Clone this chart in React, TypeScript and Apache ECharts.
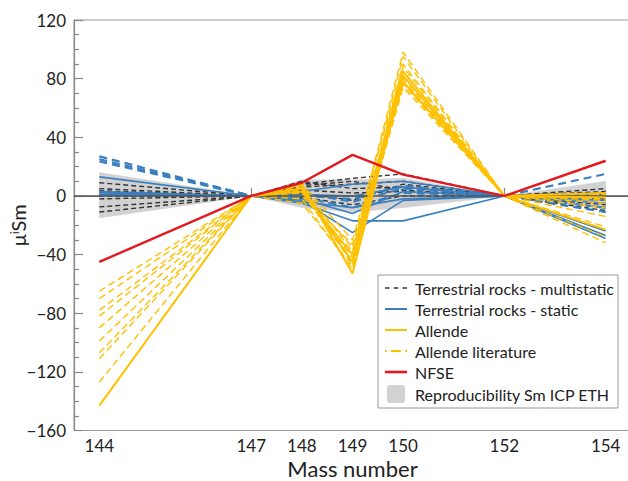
import React, { useEffect, useRef } from "react";
import * as echarts from "echarts";

const massNumbers = [144, 147, 148, 149, 150, 152, 154];

// Terrestrial rocks - multistatic (black dashed)
const multistatic: number[][] = [
  [9, 0, 8, 12, 15, 0, 5],
  [3.5, 0, 6, 8, 10, 0, 3],
  [-7.5, 0, 10, 5, 6, 0, -2],
  [-11, 0, 4, 2, 3, 0, -6],
  [5, 0, 2, -3, 8, 0, 1],
  [-2, 0, -1, -6, 0, 0, -8],
  [0, 0, 7, 10, 4, 0, -10],
];

// Terrestrial rocks - static (blue solid)
const staticRocks: number[][] = [
  [13, 0, -3, -25, -3, 0, -24],
  [2.5, 0, -5, -17, -17, 0, -27],
  [1, 0, 3, 8, 10, 0, -29],
  [2, 0, -2, -12, 3, 0, -3],
  [0.5, 0, 1, 0, 6, 0, 2],
  [3, 0, -4, -8, -2, 0, -5],
];

// Terrestrial rocks (blue dashed, not in legend)
const staticDashed: number[][] = [
  [27, 0, 2, -4, 5, 0, 15],
  [25, 0, -1, -8, 2, 0, -8],
  [23.5, 0, 0, -2, 7, 0, -11],
];

// Allende (yellow solid)
const allende: (number | null)[][] = [
  [-143, 0, 8, -53, 82, 0, -23],
  [null, 0, 5, -45, 78, 0, 2],
  [null, 0, 3, -40, 85, 0, -1],
];

// Allende literature (yellow dashed)
const allendeLit: number[][] = [
  [-65, 0, 4, -35, 98, 0, -32],
  [-70, 0, 7, -38, 95, 0, -2],
  [-78, 0, 2, -45, 90, 0, -21],
  [-82, 0, 8, -30, 88, 0, -5],
  [-90, 0, -2, -50, 85, 0, -28],
  [-99, 0, 3, -42, 80, 0, -14],
  [-107, 0, -5, -48, 77, 0, -3],
  [-111, 0, 0, -33, 76, 0, -8],
  [-127, 0, 6, -47, 74, 0, 1],
];

// NFSE (red)
const nfse = [-45, 0, 9, 28, 14.5, 0, 24];

// Reproducibility band
const bandUpper = [16, 0, 11, 11, 12, 0, 10];
const bandLower = [-15, 0, -8, -11, -8, 0, -9];

const yTickValues = [-160, -120, -80, -40, 0, 40, 80, 120];

const FONT = "Lato";
const BLUE = "#3a7fc0";
const YELLOW = "#ffc000";
const RED = "#e3191f";
const BLACK = "#333333";
const GRAY = "#d2d2d2";

const ICON_DASH = "path://M0,0h4.5v1.6h-4.5z M8.7,0h4.5v1.6h-4.5z M17.5,0h4.5v1.6h-4.5z";
const ICON_SOLID = "path://M0,0h22v2h-22z";
const ICON_SOLID_THICK = "path://M0,0h22v2.6h-22z";
const ICON_LIT = "path://M0,0h1.8v2h-1.8z M6,0h10v2h-10z M20.2,0h1.8v2h-1.8z";
const ICON_BOX = "path://M3,0 H15 A3,3 0 0 1 18,3 V15 A3,3 0 0 1 15,18 H3 A3,3 0 0 1 0,15 V3 A3,3 0 0 1 3,0 Z";

function toPoints(vals: (number | null)[]) {
  return massNumbers.map((m, i) => [m, vals[i] === null ? "-" : vals[i]]);
}

export default function App() {
  const ref = useRef<HTMLDivElement>(null);

  useEffect(() => {
    document.body.style.margin = "0";
    if (!ref.current) return;
    const chart = echarts.init(ref.current, undefined, { renderer: "svg" });

    const series: any[] = [];

    series.push({
      type: "custom",
      name: "Reproducibility Sm ICP ETH",
      itemStyle: { color: GRAY },
      z: 1,
      silent: true,
      encode: { x: 0, y: [1, 2] },
      data: massNumbers.map((m, i) => [m, bandUpper[i], bandLower[i]]),
      renderItem: (params: any, api: any) => {
        const i = params.dataIndex;
        if (i >= massNumbers.length - 1) return null;
        const pts = [
          api.coord([massNumbers[i], bandUpper[i]]),
          api.coord([massNumbers[i + 1], bandUpper[i + 1]]),
          api.coord([massNumbers[i + 1], bandLower[i + 1]]),
          api.coord([massNumbers[i], bandLower[i]]),
        ];
        return {
          type: "polygon",
          shape: { points: pts },
          style: { fill: GRAY, stroke: GRAY, lineWidth: 0.5 },
        };
      },
    });

    const lineBase = {
      type: "line",
      symbol: "none",
      showSymbol: false,
      connectNulls: false,
      silent: true,
    };

    multistatic.forEach((vals, k) => {
      series.push({
        ...lineBase,
        name: "Terrestrial rocks - multistatic",
        z: 2,
        color: BLACK,
        lineStyle: { color: BLACK, width: 1.4, type: [5, 3] },
        data: toPoints(vals),
        ...(k === 0
          ? {
              markLine: {
                silent: true,
                symbol: "none",
                label: { show: false },
                lineStyle: { color: "#555", width: 1.5, type: "solid" },
                data: [{ yAxis: 0 }],
              },
            }
          : {}),
      });
    });

    staticDashed.forEach((vals) => {
      series.push({
        ...lineBase,
        name: "Terrestrial rocks - static dashed",
        z: 3,
        color: BLUE,
        lineStyle: { color: BLUE, width: 2.2, type: [8, 5] },
        data: toPoints(vals),
      });
    });

    staticRocks.forEach((vals) => {
      series.push({
        ...lineBase,
        name: "Terrestrial rocks - static",
        z: 3,
        color: BLUE,
        lineStyle: { color: BLUE, width: 1.6 },
        data: toPoints(vals),
      });
    });

    allendeLit.forEach((vals) => {
      series.push({
        ...lineBase,
        name: "Allende literature",
        z: 4,
        color: YELLOW,
        lineStyle: { color: YELLOW, width: 1.4, type: [7, 4] },
        data: toPoints(vals),
      });
    });

    allende.forEach((vals) => {
      series.push({
        ...lineBase,
        name: "Allende",
        z: 5,
        color: YELLOW,
        lineStyle: { color: YELLOW, width: 2 },
        data: toPoints(vals),
      });
    });

    series.push({
      ...lineBase,
      name: "NFSE",
      z: 6,
      color: RED,
      lineStyle: { color: RED, width: 2.4 },
      data: toPoints(nfse),
    });

    const minus = (v: number) => (v < 0 ? "\u2212" + Math.abs(v) : String(v));

    chart.setOption({
      animation: false,
      backgroundColor: "#ffffff",
      textStyle: { fontFamily: FONT },
      grid: {
        left: 74,
        top: 20,
        right: -3,
        bottom: 50.5,
        show: true,
        borderColor: "#999",
        borderWidth: 1,
        containLabel: false,
        outerBoundsMode: "none",
      },
      legend: {
        orient: "vertical",
        left: 378,
        top: 275,
        itemWidth: 22,
        itemHeight: 18,
        itemGap: 5,
        padding: [5, 4, 5, 7],
        borderColor: "#999",
        borderWidth: 1,
        backgroundColor: "#ffffff",
        symbolKeepAspect: true,
        textStyle: { fontFamily: FONT, fontSize: 16, color: "#222", padding: [0, 0, 0, 3] },
        data: [
          { name: "Terrestrial rocks - multistatic", icon: ICON_DASH, itemStyle: { color: BLACK } },
          { name: "Terrestrial rocks - static", icon: ICON_SOLID, itemStyle: { color: BLUE } },
          { name: "Allende", icon: ICON_SOLID, itemStyle: { color: YELLOW } },
          { name: "Allende literature", icon: ICON_LIT, itemStyle: { color: YELLOW } },
          { name: "NFSE", icon: ICON_SOLID_THICK, itemStyle: { color: RED } },
          { name: "Reproducibility Sm ICP ETH", icon: ICON_BOX, itemStyle: { color: GRAY } },
        ],
      },
      xAxis: {
        type: "value",
        min: 143.5,
        max: 154.5,
        name: "Mass number",
        nameLocation: "middle",
        nameGap: 27,
        nameMoveOverlap: false,
        nameTextStyle: { fontFamily: FONT, fontSize: 22, color: "#222" },
        axisLine: { show: true, lineStyle: { color: "#888", width: 1.2 } },
        axisTick: {
          show: true,
          inside: true,
          length: 8,
          customValues: massNumbers,
          lineStyle: { color: "#888", width: 1.2 },
        },
        axisLabel: {
          customValues: massNumbers,
          fontFamily: FONT,
          fontSize: 17,
          color: "#222",
          margin: 6,
        },
        splitLine: { show: false },
      },
      yAxis: {
        type: "value",
        min: -160,
        max: 120,
        interval: 40,
        name: "{a|\u03bc}{b|i}{a|Sm}",
        nameLocation: "middle",
        nameGap: 46,
        nameMoveOverlap: false,
        nameTextStyle: {
          fontFamily: FONT,
          fontSize: 20,
          color: "#222",
          rich: {
            a: { fontFamily: FONT, fontSize: 20, color: "#222" },
            b: { fontFamily: FONT, fontSize: 12, color: "#222", padding: [0, 0, 8, 0] },
          },
        },
        axisLine: { show: true, lineStyle: { color: "#888", width: 1.2 } },
        axisTick: { show: true, inside: true, length: 9, lineStyle: { color: "#888", width: 1.2 } },
        minorTick: { show: true, splitNumber: 4, length: 5, lineStyle: { color: "#888", width: 1.2 } },
        axisLabel: {
          fontFamily: FONT,
          fontSize: 17,
          color: "#222",
          margin: 8,
          formatter: (v: number) => (yTickValues.includes(v) ? minus(v) : ""),
        },
        splitLine: { show: false },
      },
      series,
    });

    return () => chart.dispose();
  }, []);

  return <div ref={ref} style={{ width: 628, height: 481 }} />;
}
